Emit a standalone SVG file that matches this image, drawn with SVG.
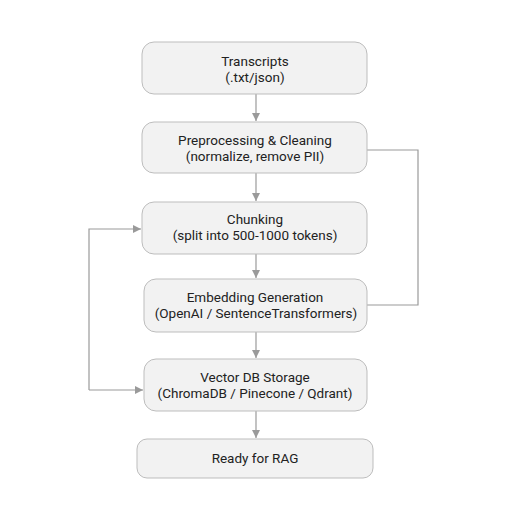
<svg xmlns="http://www.w3.org/2000/svg" width="512" height="512" viewBox="0 0 512 512">
<style>
.box{fill:#f2f2f2;stroke:#bdbdbd;stroke-width:1}
.t{font-family:Roboto,"Liberation Sans",sans-serif;font-size:13.5px;fill:#222;text-anchor:middle}
.c{fill:none;stroke:#9a9a9a;stroke-width:1.2}
</style>
<defs>
<marker id="ah" viewBox="0 0 10 10" refX="10" refY="5" markerWidth="8" markerHeight="8" markerUnits="userSpaceOnUse" orient="auto">
<path d="M0,0 L10,5 L0,10 z" fill="#9a9a9a"/>
</marker>
</defs>
<rect width="512" height="512" fill="#fff"/>
<g id="connectors">
<path class="c" d="M256,94 L256,121" marker-end="url(#ah)"/>
<path class="c" d="M256,173 L256,201" marker-end="url(#ah)"/>
<path class="c" d="M256,254 L256,278" marker-end="url(#ah)"/>
<path class="c" d="M256,332 L256,358" marker-end="url(#ah)"/>
<path class="c" d="M256,411 L256,438" marker-end="url(#ah)"/>
<path class="c" d="M367,150 L418,150 L418,305 L367,305"/>
<path class="c" d="M89,390 L89,229 L141,229" marker-end="url(#ah)"/>
<path class="c" d="M89,390 L143,390" marker-end="url(#ah)"/>
</g>
<g id="n1"><rect class="box" x="142" y="42" width="225" height="52" rx="12"/>
<text class="t" x="255" y="66">Transcripts</text><text class="t" x="255" y="82">(.txt/json)</text></g>
<g id="n2"><rect class="box" x="142" y="122" width="225" height="51" rx="12"/>
<text class="t" x="255" y="145">Preprocessing &amp; Cleaning</text><text class="t" x="255" y="161">(normalize, remove PII)</text></g>
<g id="n3"><rect class="box" x="142" y="202" width="225" height="52" rx="12"/>
<text class="t" x="255" y="224">Chunking</text><text class="t" x="255" y="240">(split into 500-1000 tokens)</text></g>
<g id="n4"><rect class="box" x="144" y="279" width="223" height="53" rx="12"/>
<text class="t" x="255" y="302">Embedding Generation</text><text class="t" x="256" y="318">(OpenAI / SentenceTransformers)</text></g>
<g id="n5"><rect class="box" x="144" y="359" width="223" height="52" rx="12"/>
<text class="t" x="255" y="382">Vector DB Storage</text><text class="t" x="255" y="398">(ChromaDB / Pinecone / Qdrant)</text></g>
<g id="n6"><rect class="box" x="137" y="439" width="236" height="39" rx="10"/>
<text class="t" x="255" y="463">Ready for RAG</text></g>
</svg>
